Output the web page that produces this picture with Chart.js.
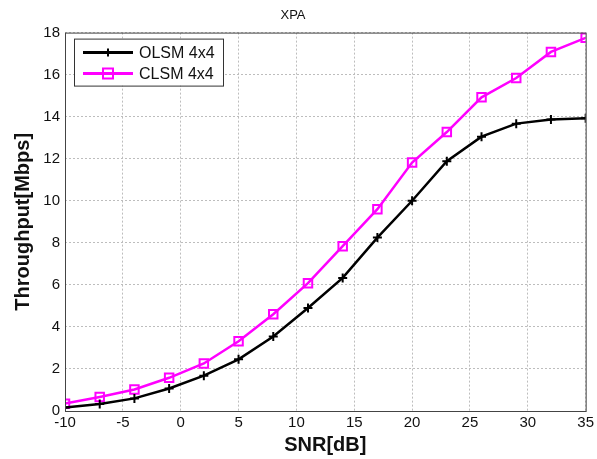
<!DOCTYPE html>
<html lang="en">
  <head>
    <meta charset="UTF-8" />
    <title>XPA throughput</title>
    <style>
      html, body { margin: 0; padding: 0; background: #fff; }
      .chart-block { width: 597px; height: 459px; }
    </style>
  </head>
  <body>
    <div class="chart-block">
      <canvas id="myChart"></canvas>
    </div>

    <script src="https://cdn.jsdelivr.net/npm/chart.js"></script>

    <script>
      const snr = [-10, -7, -4, -1, 2, 5, 8, 11, 14, 17, 20, 23, 26, 29, 32, 35];
      const olsm = [0.17, 0.33, 0.6, 1.07, 1.68, 2.46, 3.54, 4.9, 6.33, 8.25, 10.0, 11.88, 13.05, 13.67, 13.87, 13.92];
      const clsm = [0.35, 0.67, 1.02, 1.58, 2.26, 3.32, 4.6, 6.08, 7.84, 9.6, 11.82, 13.27, 14.92, 15.84, 17.08, 17.75];
      const seriesNames = ["OLSM 4x4", "CLSM 4x4"];

      const toPoints = (ys) => ys.map((y, i) => ({ x: snr[i], y: y }));

      // legend box in the upper-left corner + closing box round the plot
      const frame = {
        id: "frame",
        afterDraw(chart) {
          const c = chart.ctx;
          const a = chart.chartArea;
          c.save();
          c.strokeStyle = "#444";
          c.lineWidth = 1;
          c.strokeRect(a.left + 0.5, a.top + 0.5, a.right - a.left, a.bottom - a.top);

          const bx = a.left + 9, by = a.top + 6, bw = 149, bh = 47;
          c.fillStyle = "#fff";
          c.fillRect(bx, by, bw, bh);
          c.strokeStyle = "#333";
          c.strokeRect(bx + 0.5, by + 0.5, bw, bh);

          const rows = [by + 14, by + 35];
          c.font = "16px Arial, 'Liberation Sans', sans-serif";
          c.textBaseline = "middle";
          chart.data.datasets.forEach((ds, i) => {
            const y = rows[i];
            c.strokeStyle = ds.borderColor;
            c.lineWidth = 3;
            c.beginPath();
            c.moveTo(bx + 9, y);
            c.lineTo(bx + 59, y);
            c.stroke();
            const mx = bx + 34;
            c.lineWidth = 2;
            c.beginPath();
            if (i === 0) {
              c.moveTo(mx - 4, y); c.lineTo(mx + 4, y);
              c.moveTo(mx, y - 4); c.lineTo(mx, y + 4);
            } else {
              c.rect(mx - 5, y - 5, 10, 10);
            }
            c.stroke();
            c.fillStyle = "#111";
            c.fillText(seriesNames[i], bx + 65, y + 1);
          });
          c.restore();
        },
      };

      const ctx = document.getElementById("myChart");

      const chart = new Chart(ctx, {
        type: "line",
        data: {
          datasets: [
            {
              label: seriesNames[0],
              data: toPoints(olsm),
              borderColor: "#000",
              backgroundColor: "#000",
              borderWidth: 2.5,
              pointStyle: "cross",
              pointRadius: 4.5,
              pointBorderWidth: 2,
              tension: 0,
            },
            {
              label: seriesNames[1],
              data: toPoints(clsm),
              borderColor: "#ff00ff",
              backgroundColor: "rgba(0,0,0,0)",
              borderWidth: 2.5,
              pointStyle: "rect",
              pointRadius: 6,
              pointBorderWidth: 2,
              tension: 0,
            },
          ],
        },
        options: {
          responsive: true,
          maintainAspectRatio: false,
          animation: false,
          layout: { padding: { left: 0, right: 11, top: 0, bottom: 0 } },
          plugins: {
            legend: { display: false },
            tooltip: { enabled: false },
            title: {
              display: true,
              text: "XPA",
              color: "#111",
              font: { family: "Arial, 'Liberation Sans', sans-serif", size: 13, weight: "normal" },
              padding: { top: 8, bottom: 9 },
            },
          },
          scales: {
            x: {
              type: "linear",
              min: -10,
              max: 35,
              ticks: {
                stepSize: 5,
                color: "#111",
                padding: 3,
                font: { family: "Arial, 'Liberation Sans', sans-serif", size: 15 },
              },
              grid: { color: "#bdbdbd", drawTicks: false },
              border: { display: false, dash: [2, 2] },
              title: {
                display: true,
                text: "SNR[dB]",
                color: "#111",
                padding: { top: 0, bottom: 2 },
                font: { family: "Arial, 'Liberation Sans', sans-serif", size: 20, weight: "bold" },
              },
              afterFit(scale) { scale.height = 48; },
            },
            y: {
              min: 0,
              max: 18,
              ticks: {
                stepSize: 2,
                color: "#111",
                padding: 5,
                font: { family: "Arial, 'Liberation Sans', sans-serif", size: 15 },
              },
              grid: { color: "#bdbdbd", drawTicks: false },
              border: { display: false, dash: [2, 2] },
              title: {
                display: true,
                text: "Throughput[Mbps]",
                color: "#111",
                padding: { top: 11, bottom: 0 },
                font: { family: "Arial, 'Liberation Sans', sans-serif", size: 20, weight: "bold" },
              },
              afterFit(scale) { scale.width = 65; },
            },
          },
        },
        plugins: [frame],
      });
    </script>
  </body>
</html>
